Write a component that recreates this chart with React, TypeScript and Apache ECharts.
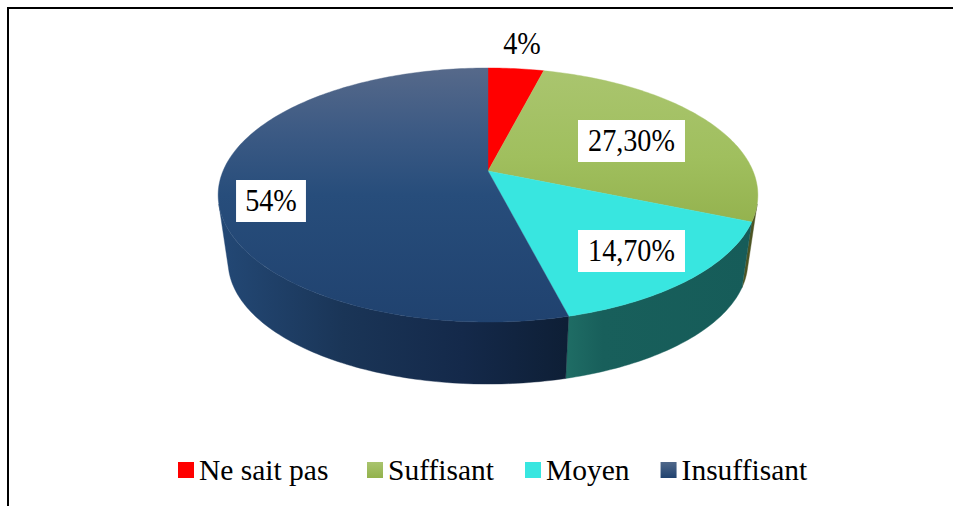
import React, { useEffect, useRef } from "react";
import * as echarts from "echarts";

const categories = ["Ne sait pas", "Suffisant", "Moyen", "Insuffisant"];
const values = [4, 27.3, 14.7, 54];
const valueLabels = ["4%", "27,30%", "14,70%", "54%"];

const topStops = [
  [[0, "#ff0000"], [1, "#ff0000"]],
  [[0, "#aac56f"], [0.35, "#a0bf5e"], [0.7, "#90ae49"], [1, "#88a540"]],
  [[0, "#38e6e0"], [1, "#38e6e0"]],
  [[0, "#56698a"], [0.25, "#3c5a84"], [0.5, "#274d7b"], [1, "#20426f"]],
];
const sideStops = [
  [[0, "#800000"], [1, "#800000"]],
  [[0, "#4c5423"], [1, "#4c5423"]],
  [[0, "#1f6d65"], [0.2, "#185f5b"], [1, "#165c59"]],
  [[0, "#234875"], [0.35, "#1a3557"], [0.7, "#14294a"], [1, "#0e1f36"]],
];
const legendStops = [
  [[0, "#ff0000"], [1, "#ff0000"]],
  [[0, "#a9c46e"], [1, "#93b24c"]],
  [[0, "#38e6e0"], [1, "#38e6e0"]],
  [[0, "#50688a"], [1, "#20426f"]],
];

const CX = 488;
const CY = 171;
const KX = 265;
const KY = 122.5;
const PERSP = -0.189;
const BOTTOM_SCALE = 0.963;
const BOTTOM_DY = 67.6;
const total = values.reduce((a, b) => a + b, 0);

const labelAnchors = [
  { x: 522, y: 44, box: false, padX: 0 },
  { x: 631.5, y: 141, box: true, padX: 11 },
  { x: 631.5, y: 251, box: true, padX: 11 },
  { x: 271, y: 201, box: true, padX: 10 },
];

function project(deg: number, s: number, dy: number): number[] {
  const t = (deg * Math.PI) / 180;
  const u = Math.sin(t);
  const v = -Math.cos(t);
  const d = 1 + PERSP * v;
  return [CX + (s * KX * u) / d, CY + dy + (s * KY * v) / d];
}

// The side wall is only visible where the rim faces the viewer.
function facesViewer(deg: number): boolean {
  const p = project(deg, 1, 0);
  const n = project(deg + 0.1, 1, 0);
  const q = project(deg, BOTTOM_SCALE, BOTTOM_DY);
  return (n[0] - p[0]) * (q[1] - p[1]) - (n[1] - p[1]) * (q[0] - p[0]) < 0;
}

function visibleRange(): number[] {
  let lo = 180;
  let hi = 180;
  while (lo > 0 && facesViewer(lo - 0.1)) lo -= 0.1;
  while (hi < 360 && facesViewer(hi + 0.1)) hi += 0.1;
  return [lo, hi];
}

function sliceRange(i: number): number[] {
  let start = 0;
  for (let j = 0; j < i; j++) start += values[j];
  return [(start / total) * 360, ((start + values[i]) / total) * 360];
}

function arcPoints(a0: number, a1: number, s: number, dy: number): number[][] {
  const n = Math.max(2, Math.ceil(a1 - a0));
  const pts: number[][] = [];
  for (let k = 0; k <= n; k++) pts.push(project(a0 + ((a1 - a0) * k) / n, s, dy));
  return pts;
}

const grad = (stops: any[], x: number, y: number, x2: number, y2: number) => ({
  type: "linear",
  x,
  y,
  x2,
  y2,
  global: true,
  colorStops: stops.map((s: any[]) => ({ offset: s[0], color: s[1] })),
});

const localGrad = (stops: any[]) => ({
  type: "linear",
  x: 0,
  y: 0,
  x2: 0,
  y2: 1,
  colorStops: stops.map((s: any[]) => ({ offset: s[0], color: s[1] })),
});

export default function App() {
  const ref = useRef<HTMLDivElement>(null);
  useEffect(() => {
    document.body.style.margin = "0";
    const chart = echarts.init(ref.current!, undefined, { renderer: "svg" });
    const [visLo, visHi] = visibleRange();

    const sideSeries: any = {
      type: "custom",
      name: "sides",
      coordinateSystem: "none",
      silent: true,
      z: 1,
      data: values.map((v, i) => [i, v]),
      renderItem: (_p: any, api: any) => {
        const i = api.value(0);
        const [s0, s1] = sliceRange(i);
        const a0 = Math.max(s0, visLo);
        const a1 = Math.min(s1, visHi);
        if (a1 <= a0) return null;
        const x0 = i === 2 ? 566 : 222;
        const x1 = i === 2 ? 750 : 566;
        const fill = grad(sideStops[i], x0, 0, x1, 0);
        const pts = arcPoints(a0, a1, 1, 0).concat(arcPoints(a0, a1, BOTTOM_SCALE, BOTTOM_DY).reverse());
        return { type: "polygon", shape: { points: pts }, style: { fill, stroke: fill, lineWidth: 0.4 } };
      },
    };

    const topSeries: any[] = categories.map((name, i) => ({
      type: "custom",
      name,
      coordinateSystem: "none",
      silent: true,
      z: 2,
      itemStyle: { color: localGrad(legendStops[i]) },
      data: [[i, values[i]]],
      renderItem: (_p: any, api: any) => {
        const idx = api.value(0);
        const [a0, a1] = sliceRange(idx);
        const pts = [[CX, CY]].concat(arcPoints(a0, a1, 1, 0));
        const fill = grad(topStops[idx], 0, 68, 0, 322);
        return { type: "polygon", shape: { points: pts }, style: { fill, stroke: fill, lineWidth: 0.4 } };
      },
    }));

    const labelSeries: any = {
      type: "custom",
      name: "labels",
      coordinateSystem: "none",
      silent: true,
      z: 3,
      data: values.map((v, i) => [i, v]),
      renderItem: (_p: any, api: any) => {
        const i = api.value(0);
        const a = labelAnchors[i];
        return {
          type: "text",
          x: a.x,
          y: a.y,
          scaleX: 0.91,
          scaleY: 1,
          style: {
            x: 0,
            y: 0,
            text: valueLabels[i],
            fill: "#000000",
            font: '31px "Liberation Serif"',
            align: "center",
            verticalAlign: "middle",
            backgroundColor: a.box ? "#ffffff" : "transparent",
            padding: a.box ? [6, a.padX, 5, a.padX] : 0,
          },
        };
      },
    };

    const legendBase = {
      top: 450,
      icon: "rect",
      itemWidth: 16,
      itemHeight: 16,
      selectedMode: false,
      textStyle: { fontFamily: "Liberation Serif", fontSize: 29.5, color: "#000000" },
    };

    chart.setOption({
      animation: false,
      backgroundColor: "#ffffff",
      legend: [
        { ...legendBase, data: categories.slice(0, 1), left: 173 },
        { ...legendBase, data: categories.slice(1), left: 362, itemGap: 31 },
      ],
      graphic: [
        { type: "line", shape: { x1: 8, y1: 8, x2: 953, y2: 8 }, style: { stroke: "#000000", lineWidth: 2 } },
        { type: "line", shape: { x1: 8, y1: 7, x2: 8, y2: 506 }, style: { stroke: "#000000", lineWidth: 2 } },
      ],
      series: [sideSeries, ...topSeries, labelSeries],
    });
    return () => chart.dispose();
  }, []);
  return <div ref={ref} style={{ position: "absolute", left: 0, top: 0, width: 953, height: 506 }} />;
}
